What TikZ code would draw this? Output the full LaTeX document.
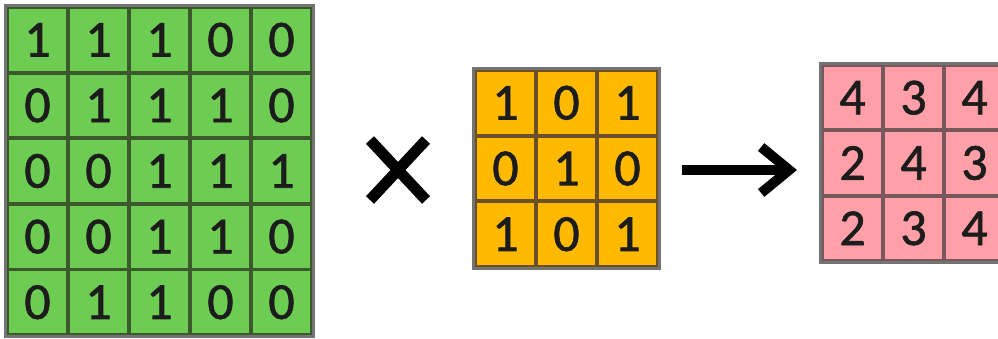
\documentclass[tikz,border=0pt]{standalone}
\usepackage{fontspec}
\setmainfont[FakeBold=1.2]{Carlito}
\usetikzlibrary{arrows.meta}
\definecolor{gfill}{HTML}{6DCC52}
\definecolor{gline}{HTML}{3A5A2C}
\definecolor{ofill}{HTML}{FFBA00}
\definecolor{oline}{HTML}{6A5024}
\definecolor{pfill}{HTML}{FFA0A8}
\definecolor{pline}{HTML}{77575B}
\definecolor{digit}{HTML}{1C1C1C}
\begin{document}
\begin{tikzpicture}[x=1pt,y=-1pt,
  cellbase/.style={draw, line width=3.8pt, inner sep=0pt, minimum width=61pt, anchor=center,
    font=\fontsize{52}{52}\selectfont, text=digit},
  gcell/.style={cellbase, fill=gfill, draw=gline, minimum height=65.6pt},
  ocell/.style={cellbase, fill=ofill, draw=oline, minimum height=65.7pt},
  pcell/.style={cellbase, fill=pfill, draw=pline, minimum height=65.3pt},
  frame/.style={draw=black!55, line width=3pt},
  sym/.style={line width=11pt, draw=black}]
\useasboundingbox[fill=white] (0,0) rectangle (998,338);
\clip (0,0) rectangle (998,338);
% green 5x5
\foreach \row [count=\j from 0] in {{1,1,1,0,0},{0,1,1,1,0},{0,0,1,1,1},{0,0,1,1,0},{0,1,1,0,0}}{
  \foreach \v [count=\i from 0] in \row {
    \node[gcell] (g-\j-\i) at ({37.5+61*\i},{39.8+65.6*\j}) {\v};
  }
}
\draw[frame] (g-0-0.north west) rectangle (g-4-4.south east);
% orange 3x3
\foreach \row [count=\j from 0] in {{1,0,1},{0,1,0},{1,0,1}}{
  \foreach \v [count=\i from 0] in \row {
    \node[ocell] (o-\j-\i) at ({505.5+61*\i},{102.8+65.7*\j}) {\v};
  }
}
\draw[frame] (o-0-0.north west) rectangle (o-2-2.south east);
% pink 3x3
\foreach \row [count=\j from 0] in {{4,3,4},{2,4,3},{2,3,4}}{
  \foreach \v [count=\i from 0] in \row {
    \node[pcell] (p-\j-\i) at ({852.5+61*\i},{97.7+65.3*\j}) {\v};
  }
}
\draw[frame] (p-0-0.north west) rectangle (p-2-2.south east);
% times symbol
\coordinate (x1) at (370,140);
\coordinate (x2) at (426,200);
\coordinate (x3) at (426,140);
\coordinate (x4) at (370,200);
\draw[sym] (x1) -- (x2);
\draw[sym] (x3) -- (x4);
% arrow
\coordinate (a1) at (682,170);
\coordinate (a2) at (797,170);
\draw[sym, line width=10pt, -{Straight Barb[length=28pt,width=46pt]}] (a1) -- (a2);
\end{tikzpicture}
\end{document}
